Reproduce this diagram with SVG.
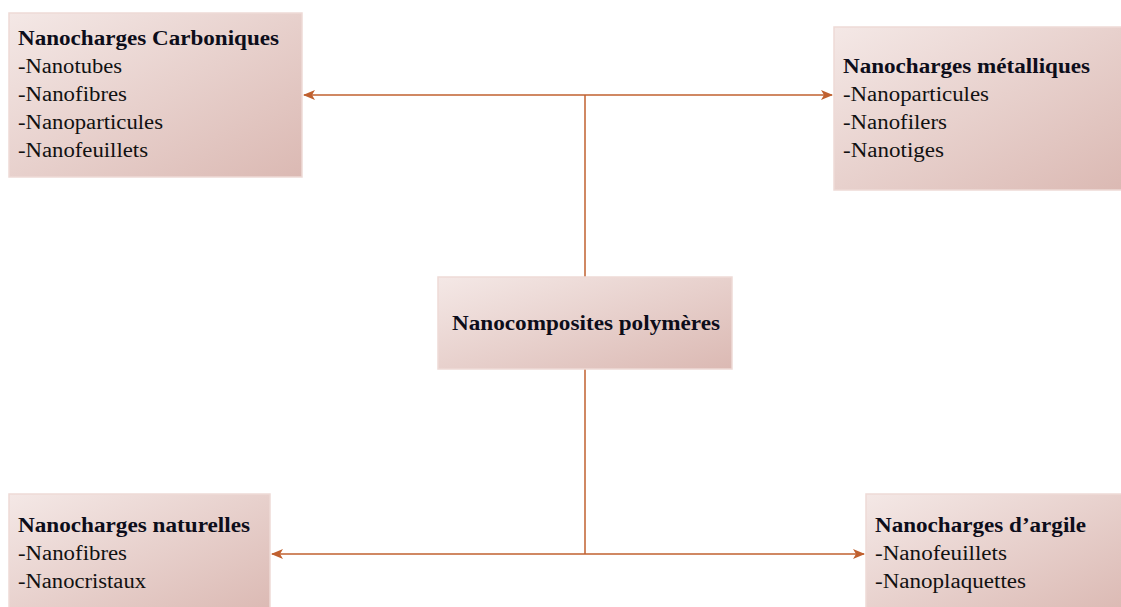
<svg xmlns="http://www.w3.org/2000/svg" width="1121" height="607" viewBox="0 0 1121 607">
<defs>
<linearGradient id="g" x1="0" y1="0" x2="1" y2="1">
<stop offset="0" stop-color="#f4e8e6"/>
<stop offset="1" stop-color="#dbb9b3"/>
</linearGradient>
<marker id="ah" markerWidth="12" markerHeight="10" refX="11" refY="5" orient="auto" markerUnits="userSpaceOnUse">
<path d="M0,0 L12,5 L0,10 L3,5 Z" fill="#c0602f"/>
</marker>
<style>
.box{fill:url(#g);stroke:#eedad6;stroke-width:1.5}
.t{font-family:"Liberation Serif","Times New Roman",serif;font-size:20px;fill:#111}
.b{font-weight:bold;fill:#0d0d1a}
.c{fill:none;stroke:#c0602f;stroke-width:1.5}
</style>
</defs>
<rect width="1121" height="607" fill="#fff"/>
<g id="connectors">
<path class="c" d="M585,277 V95"/>
<path class="c" d="M585,95 H304" marker-end="url(#ah)"/>
<path class="c" d="M585,95 H832" marker-end="url(#ah)"/>
<path class="c" d="M585,369 V554"/>
<path class="c" d="M585,554 H272" marker-end="url(#ah)"/>
<path class="c" d="M585,554 H864" marker-end="url(#ah)"/>
</g>
<g id="carboniques">
<rect class="box" x="9" y="13" width="293" height="164"/>
<text class="t b" x="18" y="45" textLength="261" lengthAdjust="spacingAndGlyphs">Nanocharges Carboniques</text>
<text class="t" x="18" y="73" textLength="104" lengthAdjust="spacingAndGlyphs">-Nanotubes</text>
<text class="t" x="18" y="101" textLength="109" lengthAdjust="spacingAndGlyphs">-Nanofibres</text>
<text class="t" x="18" y="129" textLength="145" lengthAdjust="spacingAndGlyphs">-Nanoparticules</text>
<text class="t" x="18" y="157" textLength="130" lengthAdjust="spacingAndGlyphs">-Nanofeuillets</text>
</g>
<g id="metalliques">
<rect class="box" x="834" y="27" width="290" height="163"/>
<text class="t b" x="843" y="73" textLength="247" lengthAdjust="spacingAndGlyphs">Nanocharges métalliques</text>
<text class="t" x="843" y="101" textLength="146" lengthAdjust="spacingAndGlyphs">-Nanoparticules</text>
<text class="t" x="843" y="129" textLength="104" lengthAdjust="spacingAndGlyphs">-Nanofilers</text>
<text class="t" x="843" y="157" textLength="101" lengthAdjust="spacingAndGlyphs">-Nanotiges</text>
</g>
<g id="nanocomposites">
<rect class="box" x="438" y="277" width="294" height="92"/>
<text class="t b" x="452" y="330" textLength="268" lengthAdjust="spacingAndGlyphs">Nanocomposites polymères</text>
</g>
<g id="naturelles">
<rect class="box" x="9" y="494" width="261" height="120"/>
<text class="t b" x="18" y="532" textLength="232" lengthAdjust="spacingAndGlyphs">Nanocharges naturelles</text>
<text class="t" x="18" y="560" textLength="109" lengthAdjust="spacingAndGlyphs">-Nanofibres</text>
<text class="t" x="18" y="588" textLength="128" lengthAdjust="spacingAndGlyphs">-Nanocristaux</text>
</g>
<g id="argile">
<rect class="box" x="866" y="494" width="258" height="120"/>
<text class="t b" x="875" y="532" textLength="211" lengthAdjust="spacingAndGlyphs">Nanocharges d’argile</text>
<text class="t" x="875" y="560" textLength="132" lengthAdjust="spacingAndGlyphs">-Nanofeuillets</text>
<text class="t" x="875" y="588" textLength="151" lengthAdjust="spacingAndGlyphs">-Nanoplaquettes</text>
</g>
</svg>
